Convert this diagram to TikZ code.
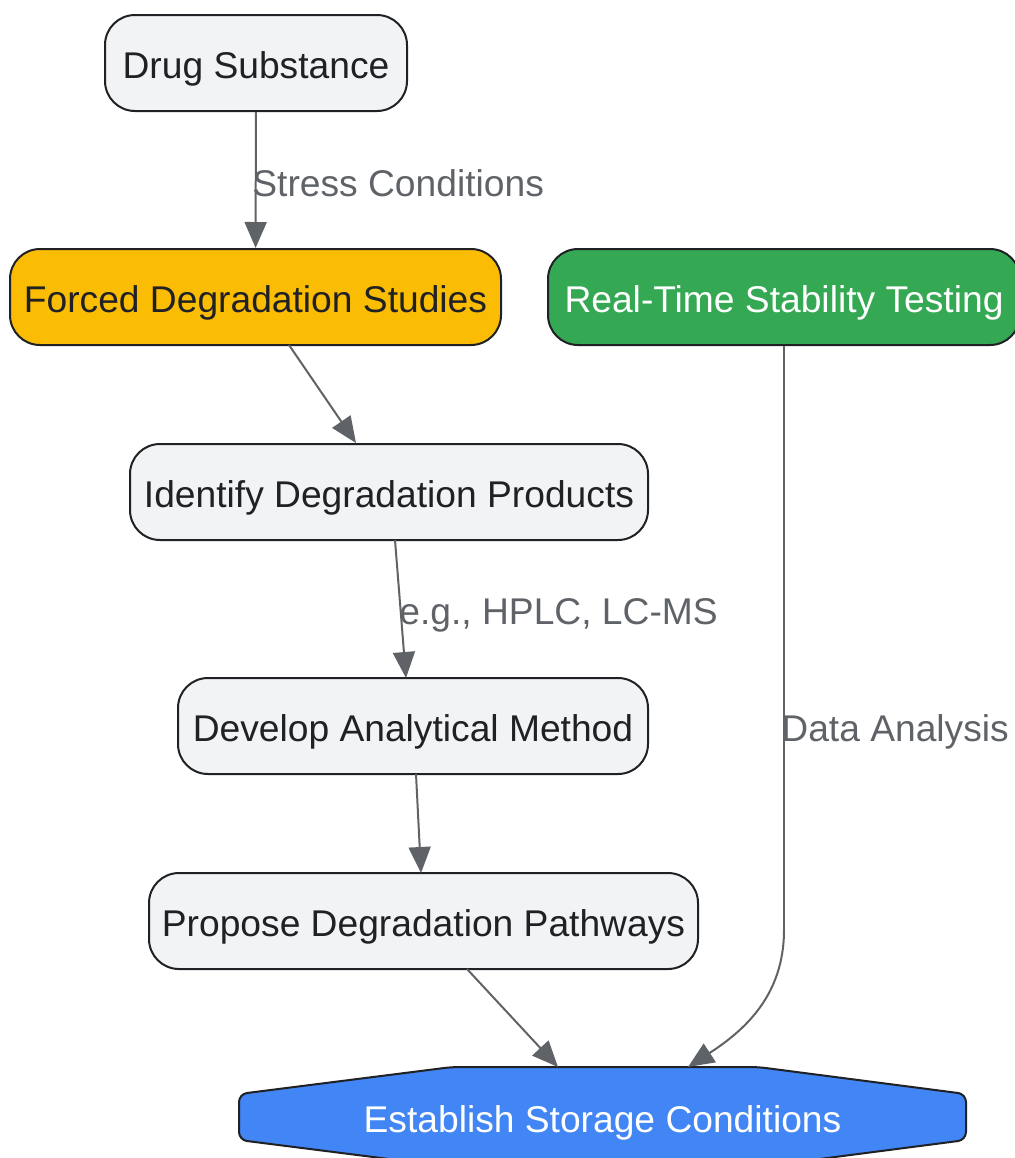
\documentclass[tikz,border=0pt]{standalone}
\usepackage{fontspec}
\setmainfont{Liberation Sans}
\usetikzlibrary{arrows.meta}
\definecolor{boxgray}{HTML}{F1F3F4}
\definecolor{boxline}{HTML}{202124}
\definecolor{edgegray}{HTML}{5F6368}
\definecolor{forcedyellow}{HTML}{FBBC04}
\definecolor{realgreen}{HTML}{34A853}
\definecolor{storeblue}{HTML}{4285F4}
\begin{document}
\begin{tikzpicture}[x=0.5pt, y=-0.5pt,
  every node/.style={font=\fontsize{18.6}{22}\selectfont},
  stepbox/.style={draw=boxline, line width=1pt, fill=boxgray, text=boxline,
    rounded corners=15pt, minimum height=48pt, inner sep=0pt,
    text height=19pt, text depth=4pt},
  flow/.style={draw=edgegray, line width=1pt, -{Triangle[length=13pt, width=11pt]}},
  flowlabel/.style={anchor=west, text=edgegray, inner sep=0pt},
]
\useasboundingbox (0,0) rectangle (1014,1158);
% Top of the chain
\node[stepbox, minimum width=151pt] (drug) at (256,63) {Drug Substance};
\node[stepbox, fill=forcedyellow, minimum width=245.5pt] (forced) at (255.5,297) {Forced Degradation Studies};
\node[stepbox, fill=realgreen, text=white, minimum width=236pt] (realtime) at (784,297) {Real-Time Stability Testing};
% Middle steps
\node[stepbox, minimum width=259pt] (identify) at (389,492) {Identify Degradation Products};
\node[stepbox, minimum width=235pt] (develop) at (413,726) {Develop Analytical Method};
\node[stepbox, minimum width=274.5pt] (propose) at (423.5,921) {Propose Degradation Pathways};
% Final step
\draw[boxline, line width=1pt, fill=storeblue, rounded corners=4pt]
  (452,1067) -- (758,1067) -- (966,1094) -- (966,1140) -- (758,1167)
  -- (452,1167) -- (239,1140) -- (239,1094) -- cycle;
\node[text=white, inner sep=0pt, text height=19pt, text depth=4pt] (establish) at (602.5,1117) {Establish Storage Conditions};
\coordinate (estleft) at (558,1067);
\coordinate (estright) at (688,1067);
\coordinate (bend) at (784,930);
% Connectors
\draw[flow] (drug) -- (forced);
\node[flowlabel] (stresslbl) at (252,183) {Stress Conditions};
\draw[flow] (289,345) -- (identify.north -| 356,0);
\draw[flow] (395,540) -- (406,678);
\node[flowlabel] (hplclbl) at (399,615) {e.g., HPLC, LC-MS};
\draw[flow] (416,774) -- (421,873);
\draw[flow] (467,969) -- (estleft);
\draw[draw=edgegray, line width=1pt] (realtime.south) -- (bend);
\draw[flow] (bend) .. controls (784,995) and (745,1030) .. (estright);
\node[flowlabel] (datalbl) at (781,732) {Data Analysis};
\end{tikzpicture}
\end{document}
